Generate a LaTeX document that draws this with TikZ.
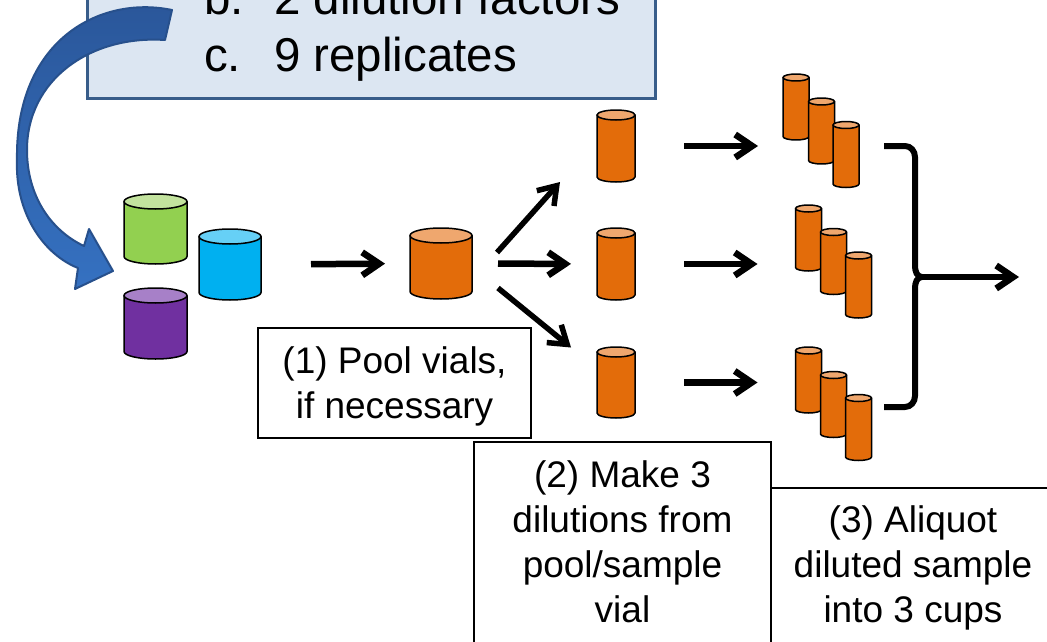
\documentclass[tikz,border=0pt]{standalone}
\usepackage{fontspec}
\setmainfont{Liberation Sans}
\usetikzlibrary{arrows.meta,calc}
\definecolor{orbody}{HTML}{E36C0A}
\definecolor{ortop}{HTML}{EFA76E}
\definecolor{grbody}{HTML}{92D050}
\definecolor{grtop}{HTML}{C3E39E}
\definecolor{blbody}{HTML}{00B0F0}
\definecolor{bltop}{HTML}{66D0F6}
\definecolor{pubody}{HTML}{7030A0}
\definecolor{putop}{HTML}{A780C8}
\definecolor{hdrfill}{HTML}{DCE6F2}
\definecolor{hdrline}{HTML}{385D8A}
\definecolor{arrline}{HTML}{27508C}
\definecolor{arrtop}{HTML}{2A5699}
\definecolor{arrbot}{HTML}{3571C1}
% name, cx, cy, width, height, ry, body colour, top colour
\newcommand\cylvial[8]{%
  \node[minimum width=#4pt, minimum height=#5pt, inner sep=0pt, outer sep=0pt] (#1) at (#2,#3) {};
  \filldraw[fill=#7, cylline] ($(#1.north west)+(0,#6)$) -- ($(#1.south west)+(0,-#6)$)
     arc[start angle=180, end angle=360, x radius=#4pt/2, y radius=#6pt]
     -- ($(#1.north east)+(0,#6)$) -- cycle;
  \filldraw[fill=#8, cylline] ($(#1.north)+(0,#6)$) ellipse[x radius=#4pt/2, y radius=#6pt];
}
\begin{document}
\begin{tikzpicture}[x=1pt,y=-1pt,
  cylline/.style={draw=black, line width=1.5pt, line join=round},
  arr/.style={line width=6.5pt, -{Straight Barb[length=17pt,width=23pt]}},
  diagarr/.style={arr, line width=5.5pt},
  txtbox/.style={draw=black, line width=1.5pt, fill=white, inner sep=0pt},
  lbl/.style={font=\fontsize{37}{44.7}\selectfont, align=center, inner sep=0pt, anchor=base},
  head/.style={font=\fontsize{47.5}{57}\selectfont, inner sep=0pt, anchor=base west}]
\useasboundingbox (0,0) rectangle (1047,642);
\fill[white] (0,0) rectangle (1047,642);
\clip (0,0) rectangle (1047,642);

% header box
\node[draw=hdrline, line width=3pt, fill=hdrfill, minimum width=568pt, minimum height=138pt, inner sep=0pt] (hdr) at (371,29) {};
\node[head] (hb) at (204,15) {b.};
\node[head] (hbt) at (274,15) {2 dilution factors};
\node[head] (hc) at (204,72) {c.};
\node[head] (hct) at (274,72) {9 replicates};

% blue curved arrow
\path[draw=arrline, line width=2pt, line join=round, top color=arrtop, bottom color=arrbot]
  (172,10) .. controls (100,-5) and (15,40) .. (17,160)
  .. controls (15,215) and (45,255) .. (78,268)
  -- (75,289) -- (113,271) -- (89,229) -- (84,246)
  .. controls (50,230) and (27,195) .. (27,150)
  .. controls (27,80) and (90,35) .. (165,40) -- cycle;

% source vials
\cylvial{green}{155.5}{229}{63}{70}{7.5}{grbody}{grtop}
\cylvial{blue}{230}{264.5}{62}{71}{7.5}{blbody}{bltop}
\cylvial{purple}{155.5}{323.5}{63}{71}{7.5}{pubody}{putop}

% pool
\cylvial{pool}{441}{263.5}{62}{71}{7.5}{orbody}{ortop}

% dilutions
\cylvial{d1}{616}{146}{38}{72}{5}{orbody}{ortop}
\cylvial{d2}{616}{264}{38}{72}{5}{orbody}{ortop}
\cylvial{d3}{616}{382.5}{38}{71}{5}{orbody}{ortop}

% aliquot cups
\cylvial{g1a}{796}{107}{26}{66}{3.5}{orbody}{ortop}
\cylvial{g1b}{821.5}{131}{26}{66}{3.5}{orbody}{ortop}
\cylvial{g1c}{846}{154.5}{26}{66}{3.5}{orbody}{ortop}
\cylvial{g2a}{808.5}{238}{26}{66}{3.5}{orbody}{ortop}
\cylvial{g2b}{833.5}{261.5}{26}{66}{3.5}{orbody}{ortop}
\cylvial{g2c}{858.5}{285}{26}{66}{3.5}{orbody}{ortop}
\cylvial{g3a}{808.5}{380}{26}{66}{3.5}{orbody}{ortop}
\cylvial{g3b}{833.5}{404.5}{26}{66}{3.5}{orbody}{ortop}
\cylvial{g3c}{858.5}{427.5}{26}{66}{3.5}{orbody}{ortop}

% arrows
\draw[arr, shorten <=50pt, shorten >=25pt] (blue.east) -- (pool.west);
\draw[arr, shorten <=26pt, shorten >=26pt] (pool.east) -- (d2.west);
\draw[diagarr] ($(pool.east)+(25,-11)$) -- ($(d1.south west)+(-37,0)$);
\draw[diagarr] ($(pool.east)+(26,24.5)$) -- ($(d3.north west)+(-26,0.5)$);
\draw[arr, shorten <=49pt, shorten >=25pt] (d1.east) -- (d1.east -| g1a.west);
\draw[arr, shorten <=49pt, shorten >=38pt] (d2.east) -- (d2.east -| g2a.west);
\draw[arr, shorten <=49pt, shorten >=38pt] (d3.east) -- (d3.east -| g3a.west);

% brace
\coordinate (brtop) at (884,146);
\coordinate (brbot) at (884,407);
\coordinate (cusp) at (922,277);
\coordinate (outend) at (1019,277);
\draw[line width=6pt, line join=round]
  (brtop) -- (905,146) to[out=0,in=90] (915,157) -- (915,266)
  to[out=-90,in=180] (cusp) to[out=180,in=90] (915,288)
  -- (915,396) to[out=-90,in=0] (905,407) -- (brbot);
\draw[arr] (cusp) -- (outend);

% text boxes
\node[txtbox, minimum width=309pt, minimum height=192pt] (box3) at (925.5,584) {};
\node[txtbox, minimum width=297pt, minimum height=238pt] (box2) at (622.5,561) {};
\node[txtbox, minimum width=273pt, minimum height=110pt] (box1) at (394.5,383) {};
\node[lbl] (t1) at (394.5,418) {(1) Pool vials,\\if necessary};
\node[lbl] (t2) at (622.5,622) {(2) Make 3\\dilutions from\\pool/sample\\vial};
\node[lbl] (t3) at (913,622) {(3) Aliquot\\diluted sample\\into 3 cups};
\end{tikzpicture}
\end{document}
